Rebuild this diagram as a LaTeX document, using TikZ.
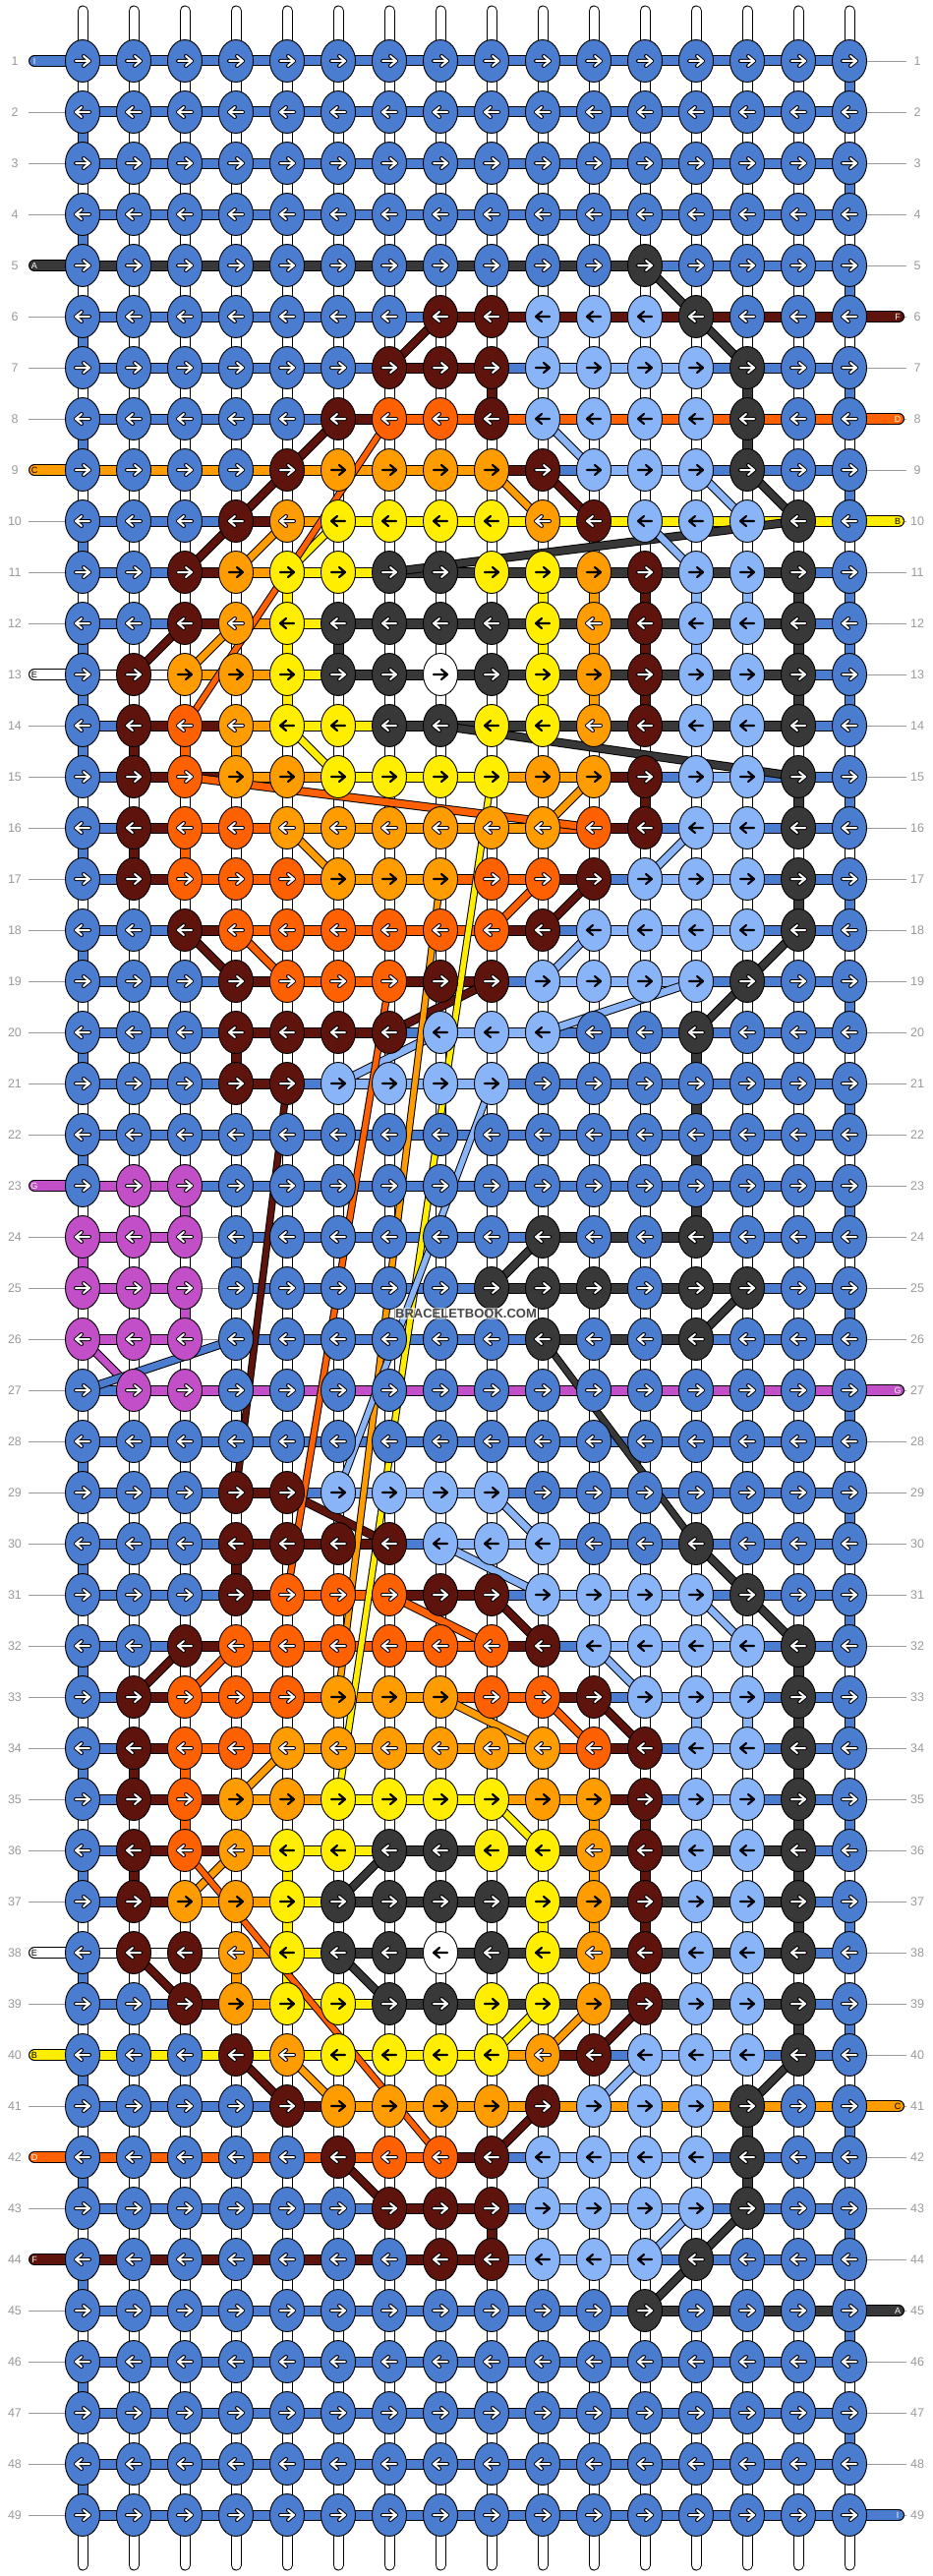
\documentclass[tikz,border=0pt]{standalone}
\usepackage{fontspec}
\setmainfont{Liberation Sans}
\definecolor{clrb}{HTML}{4A7DCF}
\definecolor{clrl}{HTML}{8AB4F8}
\definecolor{clrk}{HTML}{383838}
\definecolor{clrm}{HTML}{5E140D}
\definecolor{clro}{HTML}{FF6000}
\definecolor{clra}{HTML}{FF9C00}
\definecolor{clry}{HTML}{FFEE00}
\definecolor{clrw}{HTML}{FFFFFF}
\definecolor{clrp}{HTML}{C34FC8}
\definecolor{lab}{HTML}{9A9A9A}
\tikzset{
  outl/.style={draw=black,line width=11pt},
  fillseg/.style={line width=9pt},
  diagout/.style={draw=black,line width=9pt},
  diagin/.style={line width=7pt},
  longout/.style={draw=black,line width=7.5pt},
  longin/.style={line width=5.5pt},
  rowlab/.style={text=lab,font=\fontsize{12.5}{13}\selectfont,inner sep=0pt},
  barlab/.style={font=\fontsize{9}{9}\selectfont,inner sep=0pt},
  arw/.style={line cap=round,line join=round}
}
\newcommand\knotat[4]{%
  \def\ac{W}%
  \if#3l\def\ac{B}\fi
  \if#3y\def\ac{B}\fi
  \if#3w\def\ac{B}\fi
  \if#3a\ifnum#4=1 \def\ac{B}\fi\fi
  \filldraw[fill=clr#3,draw=black,line width=0.9pt] ({32+52*#1},{10+52*#2}) ellipse [x radius=17.5pt,y radius=21.5pt];
  \begin{scope}[shift={({32+52*#1},{10+52*#2})},xscale=#4]
    \if\ac W
      \draw[arw,draw=black,line width=4pt] (-7,0)--(6,0) (1,-5)--(7,0)--(1,5);
      \draw[arw,draw=white,line width=2pt] (-7,0)--(6,0) (1,-5)--(7,0)--(1,5);
    \else
      \draw[arw,draw=black,line width=2.2pt] (-7,0)--(6,0) (1,-5)--(7,0)--(1,5);
    \fi
  \end{scope}}
\newcommand\rowsegs[3]{%
  \foreach \sc [count=\j] in {#3}{%
    \if\sc n
      \draw[draw=black!45,line width=0.8pt] ({32+52*\j},{10+52*#1}) -- ({84+52*\j},{10+52*#1});
    \else
      \draw[outl] ({32+52*\j},{10+52*#1}) -- ({84+52*\j},{10+52*#1});
      \draw[fillseg,draw=clr\sc] ({32+52*\j},{10+52*#1}) -- ({84+52*\j},{10+52*#1});
    \fi}}
\newcommand\rowknots[3]{%
  \ifodd#1 \def\dd{1}\else\def\dd{-1}\fi
  \foreach \kc [count=\j] in {#2}{\knotat{\j}{#1}{\kc}{\dd}}}
\newcommand\vseg[3]{%
  \draw[outl] ({32+52*#2},{10+52*#1}) -- ({32+52*#2},{62+52*#1});
  \draw[fillseg,draw=clr#3] ({32+52*#2},{10+52*#1}) -- ({32+52*#2},{62+52*#1});}
\newcommand\lbar[4]{%
  \draw[draw=black,line width=12pt,line cap=round] (35,{10+52*#1}) -- (84,{10+52*#1});
  \draw[draw=clr#2,line width=10pt,line cap=round] (35,{10+52*#1}) -- (84,{10+52*#1});
  \node[barlab,text=#4] at (35,{10+52*#1}) {#3};}
\newcommand\rbar[4]{%
  \draw[draw=black,line width=12pt,line cap=round] (864,{10+52*#1}) -- (914,{10+52*#1});
  \draw[draw=clr#2,line width=10pt,line cap=round] (864,{10+52*#1}) -- (914,{10+52*#1});
  \node[barlab,text=#4] at (913,{10+52*#1}) {#3};}
\newcommand\ROWS{%
\row{1}{b,b,b,b,b,b,b,b,b,b,b,b,b,b,b,b}{b,b,b,b,b,b,b,b,b,b,b,b,b,b,b}%
\row{2}{b,b,b,b,b,b,b,b,b,b,b,b,b,b,b,b}{b,b,b,b,b,b,b,b,b,b,b,b,b,b,b}%
\row{3}{b,b,b,b,b,b,b,b,b,b,b,b,b,b,b,b}{b,b,b,b,b,b,b,b,b,b,b,b,b,b,b}%
\row{4}{b,b,b,b,b,b,b,b,b,b,b,b,b,b,b,b}{b,b,b,b,b,b,b,b,b,b,b,b,b,b,b}%
\row{5}{b,b,b,b,b,b,b,b,b,b,b,k,b,b,b,b}{k,k,k,k,k,k,k,k,k,k,k,b,b,b,b}%
\row{6}{b,b,b,b,b,b,b,m,m,l,l,l,k,b,b,b}{b,b,b,b,b,b,b,m,m,m,m,m,m,m,m}%
\row{7}{b,b,b,b,b,b,m,m,m,l,l,l,l,k,b,b}{b,b,b,b,b,b,m,m,b,l,l,l,b,b,b}%
\row{8}{b,b,b,b,b,m,o,o,m,l,l,l,l,k,b,b}{b,b,b,b,b,m,o,o,o,o,o,o,o,o,o}%
\row{9}{b,b,b,b,m,a,a,a,a,m,l,l,l,k,b,b}{a,a,a,a,a,a,a,a,m,b,l,l,b,b,b}%
\row{10}{b,b,b,m,a,y,y,y,y,a,m,l,l,l,k,b}{b,b,b,m,a,y,y,y,y,y,y,y,y,y,y}%
\row{11}{b,b,m,a,y,y,k,k,y,y,a,m,l,l,k,b}{b,b,m,a,y,y,k,k,k,k,k,k,k,k,b}%
\row{12}{b,b,m,a,y,k,k,k,k,y,a,m,l,l,k,b}{b,b,m,a,y,k,k,k,k,k,k,k,k,k,b}%
\row{13}{b,m,a,a,y,k,k,w,k,y,a,m,l,l,k,b}{w,w,a,a,y,k,k,k,k,k,k,k,k,k,b}%
\row{14}{b,m,o,a,y,y,k,k,y,y,a,m,l,l,k,b}{b,m,m,a,y,y,k,k,k,k,k,k,k,k,b}%
\row{15}{b,m,o,a,a,y,y,y,y,a,a,m,l,l,k,b}{b,m,m,a,a,y,y,y,a,a,m,b,l,b,b}%
\row{16}{b,m,o,o,a,a,a,a,a,a,o,m,l,l,k,b}{b,m,o,o,a,a,a,a,a,o,m,b,l,b,b}%
\row{17}{b,m,o,o,o,a,a,a,o,o,m,l,l,l,k,b}{b,m,o,o,o,a,a,o,o,m,b,l,l,b,b}%
\row{18}{b,b,m,o,o,o,o,o,o,m,l,l,l,l,k,b}{b,b,m,o,o,o,o,o,m,b,l,l,l,b,b}%
\row{19}{b,b,b,m,o,o,o,m,m,l,l,l,l,k,b,b}{b,b,b,m,o,o,m,m,b,l,l,l,b,b,b}%
\row{20}{b,b,b,m,m,m,m,l,l,l,b,b,k,b,b,b}{b,b,b,m,m,m,b,l,l,b,b,b,b,b,b}%
\row{21}{b,b,b,m,m,l,l,l,l,b,b,b,b,b,b,b}{b,b,b,m,b,l,l,l,b,b,b,b,b,b,b}%
\row{22}{b,b,b,b,b,b,b,b,b,b,b,b,b,b,b,b}{b,b,b,b,b,b,b,b,b,b,b,b,b,b,b}%
\row{23}{b,p,p,b,b,b,b,b,b,b,b,b,b,b,b,b}{p,p,b,b,b,b,b,b,b,b,b,b,b,b,b}%
\row{24}{p,p,p,b,b,b,b,b,b,k,b,b,k,b,b,b}{p,p,n,b,b,b,b,b,b,k,k,k,b,b,b}%
\row{25}{p,p,p,b,b,b,b,b,k,k,k,b,k,k,b,b}{p,p,n,b,b,b,b,b,k,k,k,k,k,b,b}%
\row{26}{p,p,p,b,b,b,b,b,b,k,b,b,k,b,b,b}{p,p,n,b,b,b,b,b,b,k,k,k,b,b,b}%
\row{27}{b,p,p,b,b,b,b,b,b,b,b,b,b,b,b,b}{b,p,p,p,p,p,p,p,p,p,p,p,p,p,p}%
\row{28}{b,b,b,b,b,b,b,b,b,b,b,b,b,b,b,b}{b,b,b,b,b,b,b,b,b,b,b,b,b,b,b}%
\row{29}{b,b,b,m,m,l,l,l,l,b,b,b,b,b,b,b}{b,b,b,m,b,l,l,l,b,b,b,b,b,b,b}%
\row{30}{b,b,b,m,m,m,m,l,l,l,b,b,k,b,b,b}{b,b,b,m,m,m,b,l,l,b,b,b,b,b,b}%
\row{31}{b,b,b,m,o,o,o,m,m,l,l,l,l,k,b,b}{b,b,b,m,o,o,m,m,b,l,l,l,b,b,b}%
\row{32}{b,b,m,o,o,o,o,o,o,m,l,l,l,l,k,b}{b,b,m,o,o,o,o,o,m,b,l,l,l,b,b}%
\row{33}{b,m,o,o,o,a,a,a,o,o,m,l,l,l,k,b}{b,m,o,o,o,a,a,o,o,m,b,l,l,b,b}%
\row{34}{b,m,o,o,a,a,a,a,a,a,o,m,l,l,k,b}{b,m,o,o,a,a,a,a,a,o,m,b,l,b,b}%
\row{35}{b,m,o,a,a,y,y,y,y,a,a,m,l,l,k,b}{b,m,m,a,a,y,y,y,a,a,m,b,l,b,b}%
\row{36}{b,m,o,a,y,y,k,k,y,y,a,m,l,l,k,b}{b,m,m,a,y,y,k,k,k,k,k,k,k,k,b}%
\row{37}{b,m,a,a,y,k,k,k,k,y,a,m,l,l,k,b}{b,m,a,a,y,k,k,k,k,k,k,k,k,k,b}%
\row{38}{b,m,m,a,y,k,k,w,k,y,a,m,l,l,k,b}{w,w,w,a,y,k,k,k,k,k,k,k,k,k,b}%
\row{39}{b,b,m,a,y,y,k,k,y,y,a,m,l,l,k,b}{b,b,m,a,y,y,k,k,k,k,k,k,k,k,b}%
\row{40}{b,b,b,m,a,y,y,y,y,a,m,l,l,l,k,b}{y,y,y,y,y,y,y,y,a,m,b,l,l,b,b}%
\row{41}{b,b,b,b,m,a,a,a,a,m,l,l,l,k,b,b}{b,b,b,b,m,a,a,a,a,a,a,a,a,a,a}%
\row{42}{b,b,b,b,b,m,o,o,m,l,l,l,l,k,b,b}{o,o,o,o,o,o,o,m,b,l,l,l,b,b,b}%
\row{43}{b,b,b,b,b,b,m,m,m,l,l,l,l,k,b,b}{b,b,b,b,b,b,m,m,b,l,l,l,b,b,b}%
\row{44}{b,b,b,b,b,b,b,m,m,l,l,l,k,b,b,b}{m,m,m,m,m,m,m,m,l,l,l,b,b,b,b}%
\row{45}{b,b,b,b,b,b,b,b,b,b,b,k,b,b,b,b}{b,b,b,b,b,b,b,b,b,b,b,k,k,k,k}%
\row{46}{b,b,b,b,b,b,b,b,b,b,b,b,b,b,b,b}{b,b,b,b,b,b,b,b,b,b,b,b,b,b,b}%
\row{47}{b,b,b,b,b,b,b,b,b,b,b,b,b,b,b,b}{b,b,b,b,b,b,b,b,b,b,b,b,b,b,b}%
\row{48}{b,b,b,b,b,b,b,b,b,b,b,b,b,b,b,b}{b,b,b,b,b,b,b,b,b,b,b,b,b,b,b}%
\row{49}{b,b,b,b,b,b,b,b,b,b,b,b,b,b,b,b}{b,b,b,b,b,b,b,b,b,b,b,b,b,b,b}%
}
\begin{document}
\begin{tikzpicture}[x=1pt,y=-1pt]
\useasboundingbox (0,0) rectangle (948,2620);
\fill[white] (0,0) rectangle (948,2620);
% row labels and side lines
\foreach \rr in {1,...,49}{
  \draw[draw=lab,line width=0.9pt] (29,{10+52*\rr}) -- (66,{10+52*\rr});
  \draw[draw=lab,line width=0.9pt] (882,{10+52*\rr}) -- (922,{10+52*\rr});
  \node[rowlab] at (15,{10+52*\rr}) {\rr};
  \node[rowlab] at (933,{10+52*\rr}) {\rr};
}
% top and bottom free strings
\foreach \j in {1,...,16}{
  \draw[draw=black,line width=11pt,line cap=round] ({32+52*\j},11) -- ({32+52*\j},62);
  \draw[draw=white,line width=9pt,line cap=round] ({32+52*\j},11) -- ({32+52*\j},62);
  \draw[draw=black,line width=11pt,line cap=round] ({32+52*\j},2558) -- ({32+52*\j},2609);
  \draw[draw=white,line width=9pt,line cap=round] ({32+52*\j},2558) -- ({32+52*\j},2609);
}
% vertical segments
\foreach \rr in {1,...,48}{\foreach \j in {1,...,16}{\vseg{\rr}{\j}{w}}}
\foreach \rr/\j/\vc in {1/16/b,2/1/b,3/16/b,4/1/b,5/16/b,6/1/b,6/10/l,
  7/9/m,7/14/k,7/16/b,8/1/b,8/14/k,9/16/b,10/1/b,
  11/5/y,11/10/y,11/11/a,11/12/m,11/13/l,11/14/l,11/15/k,11/16/b,
  12/1/b,12/5/y,12/6/k,12/10/y,12/11/a,12/12/m,12/13/l,12/15/k,12/16/b,
  13/1/b,13/5/y,13/10/y,13/11/a,13/12/m,13/15/k,13/16/b,
  14/1/b,14/2/m,14/3/o,14/4/a,15/12/m,15/15/k,15/16/b,16/1/b,16/2/m,16/3/o,
  17/15/k,17/16/b,18/1/b,19/16/b,20/1/b,20/4/m,20/13/k,21/13/k,21/16/b,
  22/1/b,22/13/k,23/3/p,23/13/k,23/16/b,24/1/p,24/4/b,25/3/p,25/16/b,
  27/16/b,28/1/b,29/16/b,30/1/b,30/4/m,31/16/b,32/1/b,32/15/k,
  33/13/l,33/14/l,33/15/k,33/16/b,34/1/b,34/2/m,34/3/o,34/15/k,
  35/3/o,35/11/a,35/12/m,35/15/k,35/16/b,36/1/b,36/2/m,36/5/y,36/11/a,36/12/m,36/15/k,
  37/5/y,37/10/y,37/11/a,37/12/m,37/15/k,37/16/b,38/1/b,38/4/a,38/5/y,
  39/15/k,39/16/b,40/1/b,41/14/k,41/16/b,42/1/b,42/10/l,42/14/k,43/9/m,43/16/b,
  44/1/b,45/16/b,46/1/b,47/16/b,48/1/b}{\vseg{\rr}{\j}{\vc}}
% horizontal segments
\let\row\rowsegs
\ROWS
% side bars with string letters
\lbar{1}{b}{I}{white}
\lbar{5}{k}{A}{white}
\lbar{9}{a}{C}{black}
\lbar{13}{w}{E}{black}
\lbar{23}{p}{G}{white}
\lbar{38}{w}{E}{black}
\lbar{40}{y}{B}{black}
\lbar{42}{o}{D}{white}
\lbar{44}{m}{F}{white}
\rbar{6}{m}{F}{white}
\rbar{8}{o}{D}{white}
\rbar{10}{y}{B}{black}
\rbar{27}{p}{G}{white}
\rbar{41}{a}{C}{black}
\rbar{45}{k}{A}{white}
\rbar{49}{b}{I}{white}
% short diagonal thread paths
\foreach \ra/\pa/\rb/\pb/\cl in {5/12/6/13/k,6/13/7/14/k,6/8/7/7/m,8/6/9/5/m,9/5/10/4/m,10/4/11/3/m,
  8/10/9/11/l,9/9/10/10/a,9/10/10/11/m,9/13/10/14/l,9/14/10/15/k,10/15/11/7/k,
  10/6/11/5/y,10/5/11/4/a,10/12/11/13/l,12/3/13/2/m,12/4/13/3/a,14/5/15/6/y,14/8/15/15/k,
  15/3/16/11/o,15/11/16/10/a,16/5/17/6/a,16/13/17/12/l,
  17/11/18/10/m,17/10/18/9/o,18/3/19/4/m,18/4/19/5/o,18/11/19/10/l,18/15/19/14/k,
  19/14/20/13/k,19/13/20/10/l,19/9/20/7/m,20/8/21/6/l,
  24/10/25/9/k,25/14/26/13/k,26/1/27/2/p,26/4/27/1/b,29/5/30/7/m,29/9/30/10/l,
  30/8/31/10/l,30/13/31/14/k,31/14/32/15/k,31/7/32/9/o,31/9/32/10/m,31/13/32/14/l,
  32/3/33/2/m,32/4/33/3/o,32/11/33/12/l,33/8/34/10/a,33/10/34/11/o,33/11/34/12/m,
  34/5/35/4/a,35/9/36/10/y,36/4/37/3/a,36/7/37/6/k,38/2/39/3/m,38/6/39/7/k,
  39/10/40/9/y,39/11/40/10/a,39/12/40/11/m,40/4/41/5/m,40/5/41/6/a,40/12/41/11/l,
  40/15/41/14/k,41/10/42/9/m,42/6/43/7/m,43/13/44/12/l,43/14/44/13/k,44/13/45/12/k}{
  \draw[diagout] ({32+52*\pa},{10+52*\ra}) -- ({32+52*\pb},{10+52*\rb});
  \draw[diagin,draw=clr\cl] ({32+52*\pa},{10+52*\ra}) -- ({32+52*\pb},{10+52*\rb});
}
% long carried threads
\foreach \ra/\pa/\rb/\pb/\cl in {8/7/14/3/o,15/9/35/6/y,17/8/33/6/a,19/7/31/5/o,
  21/9/29/6/l,21/5/29/4/m,26/10/30/13/k,36/3/42/8/o}{
  \draw[longout] ({32+52*\pa},{10+52*\ra}) -- ({32+52*\pb},{10+52*\rb});
  \draw[longin,draw=clr\cl] ({32+52*\pa},{10+52*\ra}) -- ({32+52*\pb},{10+52*\rb});
}
% knots
\let\row\rowknots
\ROWS
% watermark
\node[font=\bfseries\fontsize{13}{13}\selectfont,text=black!72,fill=white,fill opacity=0.55,text opacity=1,inner sep=1pt] (wm) at (474,1336) {BRACELETBOOK.COM};
\end{tikzpicture}
\end{document}
